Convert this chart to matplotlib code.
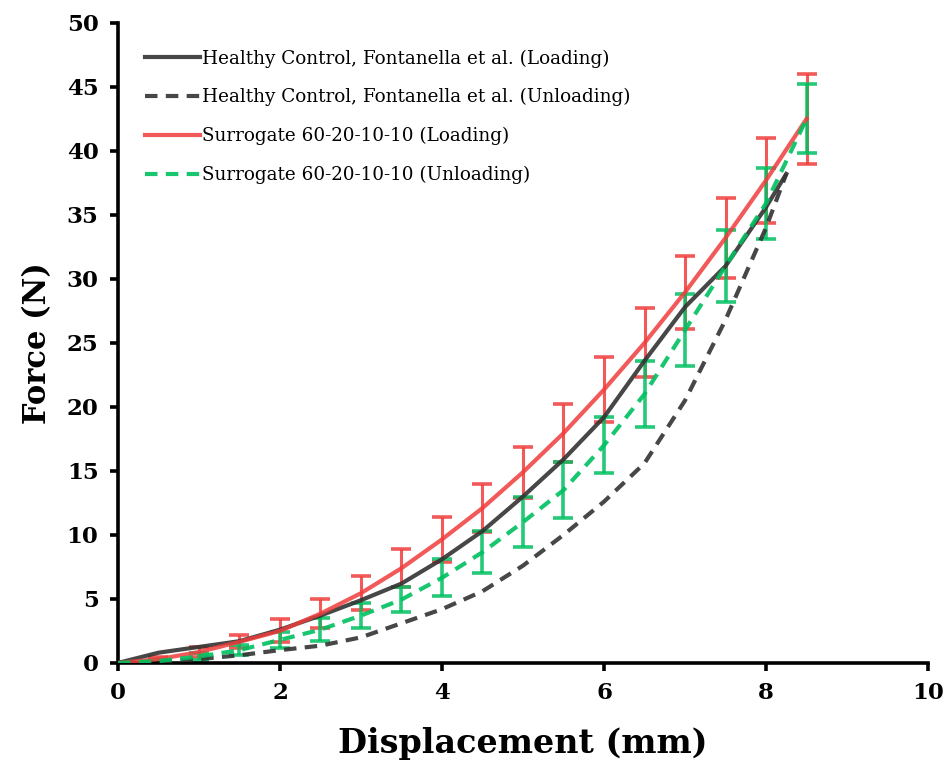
import matplotlib
matplotlib.use("Agg")
import matplotlib.pyplot as plt

# displacement (mm) where values were read
x_ctrl = [0, 0.5, 1, 1.5, 2, 2.5, 3, 3.5, 4, 4.5, 5, 5.5, 6, 6.5, 7, 7.5, 8, 8.25]
ctrl_load = [0, 0.8, 1.25, 1.7, 2.6, 3.7, 4.9, 6.2, 8.1, 10.3, 13.0, 15.9, 19.2, 23.6, 27.8, 31.0, 35.6, 38.2]
ctrl_unload = [0, 0.1, 0.3, 0.6, 1.0, 1.35, 2.0, 3.1, 4.2, 5.6, 7.6, 10.0, 12.6, 15.6, 20.5, 26.8, 34.0, 38.2]

x_sur = [0, 0.5, 1, 1.5, 2, 2.5, 3, 3.5, 4, 4.5, 5, 5.5, 6, 6.5, 7, 7.5, 8, 8.5]
sur_load = [0, 0.3, 0.85, 1.65, 2.5, 3.85, 5.45, 7.4, 9.65, 12.1, 14.9, 17.95, 21.35, 25.0, 28.95, 33.2, 37.7, 42.5]
sur_load_err = [0, 0.15, 0.4, 0.5, 0.9, 1.15, 1.35, 1.5, 1.75, 1.9, 2.0, 2.25, 2.55, 2.7, 2.85, 3.1, 3.3, 3.5]
sur_unload = [0, 0.15, 0.5, 1.0, 1.8, 2.6, 3.7, 4.95, 6.65, 8.65, 11.0, 13.5, 17.0, 21.0, 26.0, 31.0, 35.9, 42.5]
sur_unload_err = [0, 0.1, 0.3, 0.4, 0.6, 0.9, 1.0, 0.95, 1.45, 1.65, 1.95, 2.2, 2.2, 2.6, 2.8, 2.8, 2.8, 2.7]

plt.rcParams['font.family'] = 'DejaVu Serif'

fig = plt.figure(figsize=(9.46, 7.62), dpi=100)
ax = fig.add_axes([0.1247, 0.130, 0.8563, 0.840])

gray = '#333333'
red = '#f03c3c'
green = '#00c060'

ax.errorbar(x_sur[1:], sur_load[1:], yerr=sur_load_err[1:], fmt='none', ecolor=red,
            elinewidth=2.2, capsize=7, capthick=2.6, alpha=0.85, zorder=2)
ax.errorbar(x_sur[1:], sur_unload[1:], yerr=sur_unload_err[1:], fmt='none', ecolor=green,
            elinewidth=2.6, capsize=7, capthick=2.6, alpha=0.85, zorder=2)

ax.plot(x_ctrl, ctrl_load, color=gray, lw=3, alpha=0.9, zorder=3,
        label='Healthy Control, Fontanella et al. (Loading)')
ax.plot(x_ctrl, ctrl_unload, color=gray, lw=3, alpha=0.9, ls=(0, (3, 2)), zorder=3,
        label='Healthy Control, Fontanella et al. (Unloading)')
ax.plot(x_sur, sur_load, color=red, lw=3, alpha=0.85, zorder=3,
        label='Surrogate 60-20-10-10 (Loading)')
ax.plot(x_sur, sur_unload, color=green, lw=3, alpha=0.9, ls=(0, (3, 2)), zorder=3,
        label='Surrogate 60-20-10-10 (Unloading)')

ax.set_xlim(0, 10)
ax.set_ylim(0, 50)
ax.set_xticks(range(0, 11, 2))
ax.set_yticks(range(0, 51, 5))

for s in ['top', 'right']:
    ax.spines[s].set_visible(False)
for s in ['left', 'bottom']:
    ax.spines[s].set_linewidth(2.6)
ax.tick_params(direction='out', length=6, width=2.6, labelsize=16.5, pad=8)
for lab in ax.get_xticklabels() + ax.get_yticklabels():
    lab.set_fontweight('bold')

ax.set_xlabel('Displacement (mm)', fontsize=24, fontweight='bold', labelpad=16)
ax.set_ylabel('Force (N)', fontsize=22, fontweight='bold', labelpad=10)

ax.legend(loc='upper left', bbox_to_anchor=(0.0, 1.0), frameon=False, fontsize=13.2,
          handlelength=3.0, handletextpad=0.15, labelspacing=1.12, borderaxespad=1.05)

plt.savefig('out.png', dpi=100)
